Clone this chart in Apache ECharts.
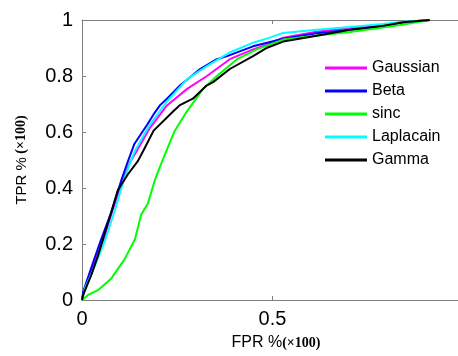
<!DOCTYPE html>
<html>
<head>
<meta charset="utf-8">
<script src="https://cdn.jsdelivr.net/npm/echarts@6/dist/echarts.min.js"></script>
<style>html,body{margin:0;padding:0;background:#fff;}#c{width:458px;height:356px;}</style>
</head>
<body>
<div id="c"></div>
<script>
// Series names
var seriesNames = ['Gaussian', 'Beta', 'sinc', 'Laplacain', 'Gamma'];
var seriesColors = ['#ff00ff', '#0000ff', '#00ff00', '#00ffff', '#000000'];

// FPR / TPR values (x100 %)
var fprGaussian = [0, 0.005, 0.031, 0.058, 0.081, 0.105, 0.126, 0.144, 0.178, 0.223, 0.276, 0.328, 0.388, 0.449, 0.486, 0.528, 0.616, 0.703, 0.790, 0.843, 0.913];
var tprGaussian = [0, 0.028, 0.130, 0.221, 0.323, 0.421, 0.491, 0.533, 0.614, 0.695, 0.754, 0.800, 0.860, 0.895, 0.912, 0.937, 0.958, 0.972, 0.982, 0.992, 1.000];

var fprBeta = [0, 0.003, 0.029, 0.050, 0.076, 0.103, 0.121, 0.137, 0.171, 0.187, 0.205, 0.223, 0.257, 0.310, 0.354, 0.381, 0.449, 0.528, 0.616, 0.703, 0.774, 0.843, 0.913];
var tprBeta = [0, 0.029, 0.134, 0.216, 0.310, 0.427, 0.497, 0.556, 0.626, 0.661, 0.696, 0.719, 0.766, 0.825, 0.860, 0.871, 0.906, 0.933, 0.953, 0.965, 0.976, 0.992, 1.000];

var fprSinc = [0, 0.016, 0.042, 0.077, 0.112, 0.139, 0.155, 0.173, 0.191, 0.204, 0.225, 0.243, 0.275, 0.318, 0.354, 0.406, 0.459, 0.528, 0.616, 0.703, 0.790, 0.835, 0.913];
var tprSinc = [0, 0.018, 0.035, 0.077, 0.146, 0.217, 0.304, 0.345, 0.427, 0.474, 0.544, 0.603, 0.673, 0.754, 0.800, 0.859, 0.895, 0.930, 0.945, 0.957, 0.973, 0.982, 1.000];

var fprLaplacain = [0, 0.008, 0.034, 0.060, 0.087, 0.108, 0.126, 0.139, 0.178, 0.223, 0.276, 0.328, 0.388, 0.449, 0.493, 0.528, 0.616, 0.703, 0.790, 0.835, 0.913];
var tprLaplacain = [0, 0.042, 0.123, 0.211, 0.323, 0.421, 0.488, 0.533, 0.626, 0.709, 0.789, 0.835, 0.884, 0.919, 0.937, 0.954, 0.965, 0.975, 0.986, 0.993, 1.000];

var fprGamma = [0, 0.003, 0.024, 0.042, 0.060, 0.076, 0.094, 0.121, 0.147, 0.165, 0.188, 0.239, 0.257, 0.291, 0.327, 0.344, 0.388, 0.449, 0.486, 0.528, 0.616, 0.703, 0.790, 0.843, 0.913];
var tprGamma = [0, 0.018, 0.088, 0.158, 0.240, 0.310, 0.392, 0.450, 0.497, 0.544, 0.605, 0.673, 0.696, 0.719, 0.766, 0.778, 0.825, 0.871, 0.901, 0.923, 0.944, 0.965, 0.979, 0.992, 1.000];

var xTickValues = [0, 0.5];
var xTickLabels = ['0', '0.5'];
var yTickLabels = ['0', '0.2', '0.4', '0.6', '0.8', '1'];

function pairs(xs, ys) {
  var out = [];
  for (var i = 0; i < xs.length; i++) out.push([xs[i], ys[i]]);
  return out;
}
var allX = [fprGaussian, fprBeta, fprSinc, fprLaplacain, fprGamma];
var allY = [tprGaussian, tprBeta, tprSinc, tprLaplacain, tprGamma];

var series = seriesNames.map(function (name, i) {
  return {
    name: name,
    type: 'line',
    xAxisIndex: 0,
    yAxisIndex: 0,
    data: pairs(allX[i], allY[i]),
    showSymbol: false,
    symbol: 'none',
    lineStyle: { color: seriesColors[i], width: 2 },
    itemStyle: { color: seriesColors[i] },
    z: 2 + i,
    animation: false
  };
});

var axisGray = '#808080';
var chart = echarts.init(document.getElementById('c'), null, { renderer: 'canvas' });
chart.setOption({
  animation: false,
  backgroundColor: '#ffffff',
  grid: { left: 82, top: 20, right: 0, bottom: 51 },
  legend: {
    orient: 'vertical',
    left: 325,
    top: 60,
    padding: 0,
    icon: 'rect',
    itemWidth: 42,
    itemHeight: 3,
    itemGap: 7,
    data: seriesNames,
    textStyle: { fontFamily: 'Liberation Sans', fontSize: 16, color: '#000' }
  },
  xAxis: [{
    type: 'value',
    min: 0,
    max: 0.987,
    interval: 0.5,
    position: 'bottom',
    name: '{a|FPR %}{b|(×100)}',
    nameLocation: 'middle',
    nameGap: 35,
    nameTextStyle: {
      padding: [0, 0, 0, 12],
      rich: {
        a: { fontFamily: 'Liberation Sans', fontSize: 16, color: '#000' },
        b: { fontFamily: 'Liberation Serif', fontWeight: 'bold', fontSize: 14, color: '#000' }
      }
    },
    axisLine: { show: true, lineStyle: { color: axisGray, width: 1 } },
    axisTick: { show: true, inside: true, length: 4, lineStyle: { color: axisGray }, customValues: xTickValues },
    axisLabel: {
      customValues: xTickValues,
      formatter: function (v) { return xTickLabels[xTickValues.indexOf(v)] || ''; },
      fontFamily: 'Liberation Sans', fontSize: 20, color: '#000', margin: 9
    },
    splitLine: { show: false }
  }, {
    type: 'value',
    min: 0,
    max: 0.987,
    interval: 0.5,
    position: 'top',
    axisLine: { show: true, lineStyle: { color: axisGray, width: 1 } },
    axisTick: { show: true, inside: true, length: 4, lineStyle: { color: axisGray }, customValues: [0.5] },
    axisLabel: { show: false },
    splitLine: { show: false }
  }],
  yAxis: [{
    type: 'value',
    min: 0,
    max: 1,
    interval: 0.2,
    name: '{a|TPR %} {b|(×100)}',
    nameLocation: 'middle',
    nameRotate: 90,
    nameGap: 53,
    nameTextStyle: {
      rich: {
        a: { fontFamily: 'Liberation Sans', fontSize: 15, color: '#000' },
        b: { fontFamily: 'Liberation Serif', fontWeight: 'bold', fontSize: 14, color: '#000' }
      }
    },
    axisLine: { show: true, lineStyle: { color: axisGray, width: 1 } },
    axisTick: { show: true, inside: true, length: 4, lineStyle: { color: axisGray } },
    axisLabel: {
      formatter: function (v) { return yTickLabels[Math.round(v / 0.2)]; },
      fontFamily: 'Liberation Sans', fontSize: 20, color: '#000', margin: 9
    },
    splitLine: { show: false }
  }],
  series: series
});
</script>
</body>
</html>
